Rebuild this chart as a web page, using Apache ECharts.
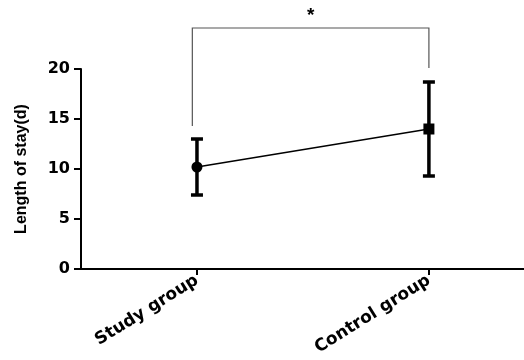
<!DOCTYPE html>
<html><head><meta charset="utf-8">
<script src="https://cdn.jsdelivr.net/npm/echarts@6/dist/echarts.min.js"></script>
<style>html,body{margin:0;padding:0;background:#fff}#c{width:524px;height:360px}</style>
</head><body><div id="c"></div>
<script>
var categories = ['Study group', 'Control group'];
var means = [10.2, 14.0];
var lower = [7.4, 9.3];
var upper = [13.0, 18.7];
var yTicks = [0, 5, 10, 15, 20];
var bracket = [[-0.02, 14.3], [-0.02, 24.1], [1, 24.1], [1, 20.1]];
var starPos = [0.49, 25.3];
var starText = '*';

var chart = echarts.init(document.getElementById('c'));
var font = 'Liberation Sans, Arial, sans-serif';
var wide = 'DejaVu Sans, sans-serif';
chart.setOption({
  animation: false,
  grid: {left: 81, right: 0, top: 69, bottom: 91, containLabel: false},
  xAxis: {
    type: 'value', min: -0.5, max: 1.41,
    splitLine: {show: false},
    axisLine: {show: true, onZero: false, lineStyle: {color: '#000', width: 2}},
    axisTick: {show: true, customValues: [0, 1], length: 6, lineStyle: {color: '#000', width: 2}},
    axisLabel: {customValues: [0, 1], rotate: 32, margin: 10, color: '#000',
      fontFamily: wide, fontWeight: 'bold', fontSize: 17,
      formatter: function (v) { return categories[Math.round(v)]; }}
  },
  yAxis: {
    type: 'value', min: 0, max: 20, interval: 5,
    name: 'Length of stay(d)', nameLocation: 'middle', nameGap: 51,
    nameTextStyle: {color: '#000', fontFamily: font, fontWeight: 'bold', fontSize: 16},
    splitLine: {show: false},
    axisLine: {show: true, onZero: false, lineStyle: {color: '#000', width: 2}},
    axisTick: {show: true, length: 7, lineStyle: {color: '#000', width: 2}},
    axisLabel: {color: '#000', fontFamily: wide, fontWeight: 'bold', fontSize: 16, margin: 11,
      formatter: function (v) { return yTicks.indexOf(v) >= 0 ? String(v) : ''; }}
  },
  series: [
    {
      type: 'custom', clip: false, z: 3,
      data: categories.map(function (c, i) { return [i, lower[i], upper[i]]; }),
      renderItem: function (params, api) {
        var lo = api.coord([api.value(0), api.value(1)]);
        var hi = api.coord([api.value(0), api.value(2)]);
        var w = 6;
        var st = {stroke: '#000', lineWidth: 3.5};
        return {type: 'group', children: [
          {type: 'line', shape: {x1: lo[0], y1: lo[1], x2: hi[0], y2: hi[1]}, style: st},
          {type: 'line', shape: {x1: lo[0] - w, y1: lo[1], x2: lo[0] + w, y2: lo[1]}, style: st},
          {type: 'line', shape: {x1: hi[0] - w, y1: hi[1], x2: hi[0] + w, y2: hi[1]}, style: st}
        ]};
      }
    },
    {
      type: 'line', z: 4,
      data: [
        {value: [0, means[0]], symbol: 'circle', symbolSize: 11},
        {value: [1, means[1]], symbol: 'rect', symbolSize: 11}
      ],
      lineStyle: {color: '#000', width: 1.5},
      itemStyle: {color: '#000', borderWidth: 0}
    },
    {
      type: 'custom', clip: false, z: 2,
      data: [0],
      renderItem: function (params, api) {
        var pts = bracket.map(function (p) { return api.coord(p); });
        var s = api.coord(starPos);
        return {type: 'group', children: [
          {type: 'polyline', shape: {points: pts}, style: {stroke: '#555', lineWidth: 1.2, fill: null}},
          {type: 'text', x: s[0], y: s[1], style: {text: starText, fill: '#000', font: 'bold 19px ' + font, align: 'center', verticalAlign: 'middle'}}
        ]};
      }
    }
  ]
});
</script>
</body></html>
